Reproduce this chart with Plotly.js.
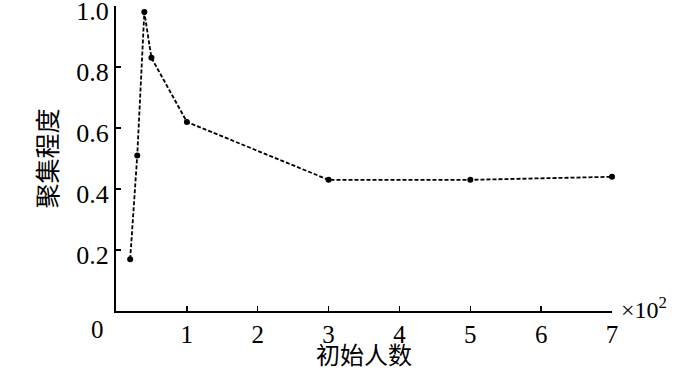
<!DOCTYPE html>
<html>
<head>
<meta charset="utf-8">
<script src="https://cdn.plot.ly/plotly-3.0.1.min.js"></script>
<style>html,body{margin:0;padding:0;background:#fff;}#chart{width:700px;height:371px;}</style>
</head>
<body>
<div id="chart"></div>
<script>
// initial population (x10^2) and aggregation degree
const initialCount = [0.2, 0.3, 0.4, 0.5, 1, 3, 5, 7];
const aggregation = [0.17, 0.51, 0.98, 0.83, 0.62, 0.43, 0.43, 0.44];
const xTickVals = [1, 2, 3, 4, 5, 6, 7];
const xTickText = ['1', '2', '3', '4', '5', '6', '7'];
const yTickVals = [0.2, 0.4, 0.6, 0.8, 1.0];
const yTickText = ['0.2', '0.4', '0.6', '0.8', '1.0'];

const serif = 'Liberation Serif';
const cjk = 'Noto Sans CJK SC';

const trace = {
  x: initialCount,
  y: aggregation,
  type: 'scatter',
  mode: 'lines+markers',
  line: {color: '#000', width: 1.8, dash: '4px,2px'},
  marker: {color: '#000', size: 6},
  cliponaxis: false,
  hoverinfo: 'skip'
};

const layout = {
  width: 700, height: 371, autosize: false,
  margin: {l: 116, r: 88, t: 6, b: 60, pad: 0},
  paper_bgcolor: '#fff', plot_bgcolor: '#fff',
  showlegend: false,
  xaxis: {
    range: [0, 7], showgrid: false, zeroline: false,
    showline: true, linecolor: '#000', linewidth: 2,
    ticks: 'inside', ticklen: 5, tickwidth: 1.5, tickcolor: '#000',
    tickvals: xTickVals, ticktext: xTickText,
    tickfont: {family: serif, size: 25, color: '#000'},
    ticklabeloverflow: 'allow',
    title: {text: '初始人数', font: {family: cjk, size: 24, color: '#000'}, standoff: 4}
  },
  yaxis: {
    range: [0, 1.0], showgrid: false, zeroline: false,
    showline: true, linecolor: '#000', linewidth: 2,
    ticks: 'inside', ticklen: 5, tickwidth: 1.5, tickcolor: '#000',
    tickvals: yTickVals, ticktext: yTickText,
    tickfont: {family: serif, size: 26, color: '#000'},
    ticklabeloverflow: 'allow',
    ticklabelshift: 5,
    title: {text: '聚集程度', font: {family: cjk, size: 25, color: '#000'}, standoff: 12}
  },
  annotations: [
    {xref: 'paper', yref: 'paper', x: 0, y: 0, xanchor: 'right', yanchor: 'top',
     xshift: -10, yshift: -3, text: '0', showarrow: false,
     font: {family: serif, size: 25, color: '#000'}},
    {xref: 'paper', yref: 'paper', x: 1, y: 0, xanchor: 'left', yanchor: 'middle',
     xshift: 7, yshift: 3, text: '×10<sup>2</sup>', showarrow: false,
     font: {family: serif, size: 24, color: '#000'}}
  ]
};

Plotly.newPlot('chart', [trace], layout, {displayModeBar: false, staticPlot: true});
</script>
</body>
</html>
